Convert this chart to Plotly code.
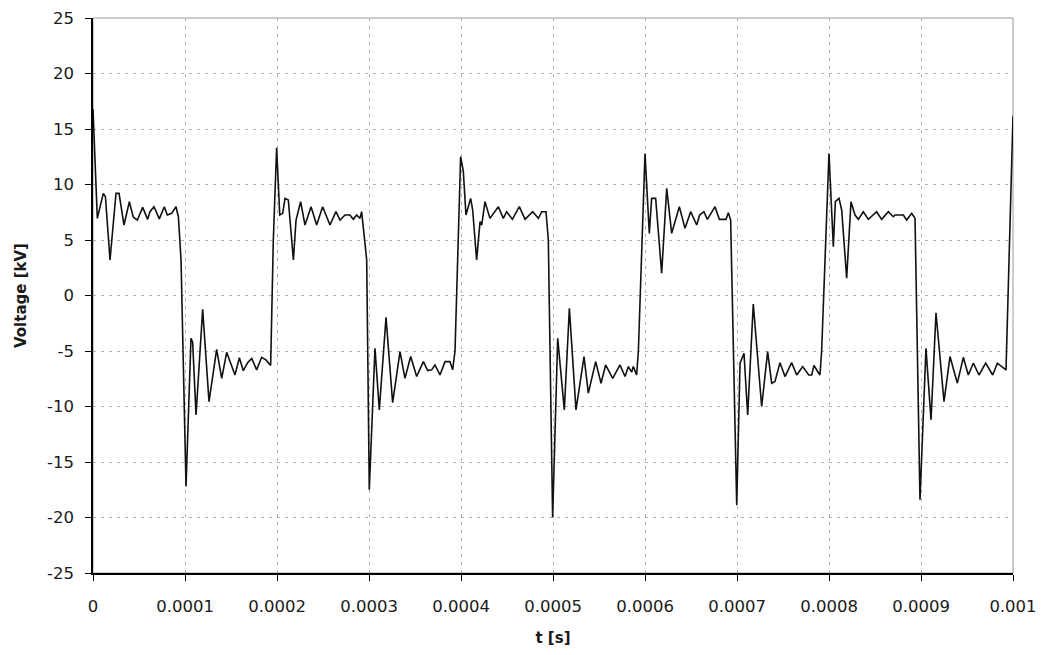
import numpy as np
import plotly.graph_objects as go

# Sampled waveform vertices: time in microseconds, voltage in kV
t_us = [
    0.0, 4.7, 11.2, 13.5, 18.5, 25.0, 28.3, 33.7, 39.5, 43.8, 48.2, 54.0, 59.4, 61.9,
    66.3, 72.1, 77.5, 80.8, 85.5, 90.2, 92.8, 95.7,
    101.1, 106.5, 108.3, 112.0, 119.2, 126.1, 134.4, 139.9, 145.3, 154.3, 159.1,
    163.4, 168.1, 172.5, 177.9, 183.3, 188.0, 193.1, 196.0,
    199.6, 203.0, 206.2, 208.7, 212.3, 217.8, 220.7, 225.7, 230.4, 237.0, 243.1,
    249.6, 257.6, 264.1, 268.5, 273.9, 279.3, 283.0, 286.6, 290.2, 292.0, 297.5,
    300.3, 306.5, 311.2, 318.5, 325.7, 333.7, 339.1, 345.3, 351.8, 359.1, 363.8,
    368.1, 371.7, 377.2, 382.6, 388.0, 390.9, 393.5,
    399.6, 402.5, 405.4, 410.5, 412.7, 417.0, 420.7, 422.5, 426.1, 431.5, 440.6,
    446.0, 449.6, 455.8, 463.4, 469.6, 477.9, 484.1, 487.7, 492.4, 494.9,
    499.6, 505.1, 512.3, 517.8, 525.0, 533.7, 538.4, 546.4, 552.2, 557.2, 564.9,
    572.8, 578.3, 581.9, 585.5, 587.3, 590.9, 592.8,
    600.0, 604.7, 607.2, 611.6, 618.1, 623.6, 629.0, 637.3, 643.5, 649.6, 656.2,
    659.4, 664.0, 667.8, 676.1, 680.8, 688.0, 690.6, 693.1,
    699.7, 703.3, 707.6, 711.6, 717.7, 726.8, 733.3, 737.7, 741.3, 746.7, 752.2,
    759.4, 764.9, 771.4, 778.0, 781.2, 783.7, 787.3, 790.2, 792.0,
    800.0, 804.7, 806.9, 810.9, 813.8, 819.2, 823.9, 828.3, 831.9, 837.3, 842.7,
    851.8, 857.2, 864.5, 869.9, 871.7, 880.8, 884.4, 889.9, 893.5,
    898.9, 905.4, 910.9, 916.3, 925.0, 931.5, 939.5, 946.0, 951.4, 956.9, 963.0,
    970.3, 977.9, 983.0, 987.7, 992.4, 1000.0,
]
voltage_kv = [
    16.8, 6.95, 9.2, 8.9, 3.2, 9.2, 9.2, 6.35, 8.45, 7.05, 6.8, 7.94, 6.86, 7.55,
    8.0, 6.9, 8.0, 7.25, 7.4, 8.0, 7.1, 3.2,
    -17.2, -3.86, -4.2, -10.77, -1.25, -9.56, -4.85, -7.46, -5.12, -7.16, -5.6,
    -6.77, -6.05, -5.66, -6.7, -5.57, -5.8, -6.3, 5.0,
    13.3, 7.25, 7.4, 8.75, 8.6, 3.2, 6.8, 8.45, 6.35, 8.0, 6.35,
    8.0, 6.35, 7.55, 6.8, 7.25, 7.25, 6.86, 7.25, 6.95, 7.55, 3.2,
    -17.5, -4.76, -10.3, -1.97, -9.65, -5.06, -7.46, -5.5, -7.3, -5.96, -6.77,
    -6.7, -6.26, -7.16, -5.96, -5.96, -6.7, -5.0,
    12.5, 11.2, 7.25, 8.75, 7.7, 3.2, 6.65, 6.35, 8.45, 6.95, 8.0,
    6.95, 7.55, 6.86, 8.0, 6.86, 7.55, 6.95, 7.55, 7.55, 5.0,
    -20.0, -3.86, -10.3, -1.16, -10.3, -5.5, -8.8, -5.96, -7.9, -6.26, -7.46,
    -6.26, -7.3, -6.4, -6.9, -6.4, -7.16, -5.0,
    12.8, 5.6, 8.75, 8.75, 2.0, 9.65, 5.6, 8.0, 6.05, 7.55, 6.35,
    7.25, 7.55, 6.86, 8.0, 6.86, 6.86, 7.46, 6.8,
    -18.9, -6.1, -5.2, -10.77, -0.77, -10.0, -5.06, -7.9, -7.75, -6.05, -7.3,
    -6.05, -7.16, -6.4, -7.16, -7.16, -6.3, -6.8, -7.16, -5.0,
    12.8, 4.4, 8.45, 8.75, 7.7, 1.55, 8.45, 7.25, 6.86, 7.55, 6.86,
    7.55, 6.86, 7.55, 7.1, 7.25, 7.25, 6.8, 7.4, 6.95,
    -18.4, -4.76, -11.2, -1.55, -9.56, -5.5, -7.9, -5.57, -7.16, -6.1, -7.16,
    -6.1, -7.16, -6.1, -6.4, -6.7, 16.2,
]

x_tickvals = [0, 0.0001, 0.0002, 0.0003, 0.0004, 0.0005, 0.0006, 0.0007, 0.0008, 0.0009, 0.001]
x_ticktext = ["0", "0.0001", "0.0002", "0.0003", "0.0004", "0.0005",
              "0.0006", "0.0007", "0.0008", "0.0009", "0.001"]
y_tickvals = [-25, -20, -15, -10, -5, 0, 5, 10, 15, 20, 25]
y_ticktext = ["-25", "-20", "-15", "-10", "-5", "0", "5", "10", "15", "20", "25"]

t_s = np.array(t_us) * 1e-6

FONT = "DejaVu Sans"
TEXT_COLOR = "#1a1a1a"

fig = go.Figure()
fig.add_trace(go.Scatter(
    x=t_s, y=voltage_kv, mode="lines",
    line=dict(color="#111111", width=1.6),
    hoverinfo="skip", showlegend=False,
))

# light frame on the top and right edges of the plotting area
fig.add_shape(type="rect", xref="paper", yref="paper", x0=0, y0=0, x1=1, y1=1,
              line=dict(color="#9a9a9a", width=1), layer="below")

axis_common = dict(
    showgrid=True, gridcolor="#b0b0b0", gridwidth=1, griddash="3px,5px",
    zeroline=False, showline=True, linecolor="black", linewidth=1.5,
    ticks="outside", ticklen=6, tickcolor="black", tickwidth=1,
    tickfont=dict(family=FONT, size=16.5, color=TEXT_COLOR),
    automargin=False,
)

fig.update_xaxes(
    range=[0, 0.001], tickvals=x_tickvals, ticktext=x_ticktext,
    ticklabelstandoff=11,
    title=dict(text="<b>t [s]</b>", font=dict(family=FONT, size=15, color=TEXT_COLOR),
               standoff=18),
    **axis_common,
)
fig.update_yaxes(
    range=[-25, 25], tickvals=y_tickvals, ticktext=y_ticktext, ticklabelstandoff=8,
    title=dict(text="<b>Voltage [kV]</b>", font=dict(family=FONT, size=15, color=TEXT_COLOR),
               standoff=17),
    **axis_common,
)

fig.update_layout(
    width=1046, height=655,
    margin=dict(l=93, r=33, t=18, b=82),
    plot_bgcolor="white", paper_bgcolor="white",
    font=dict(family=FONT),
)

fig.write_html("out.html")
